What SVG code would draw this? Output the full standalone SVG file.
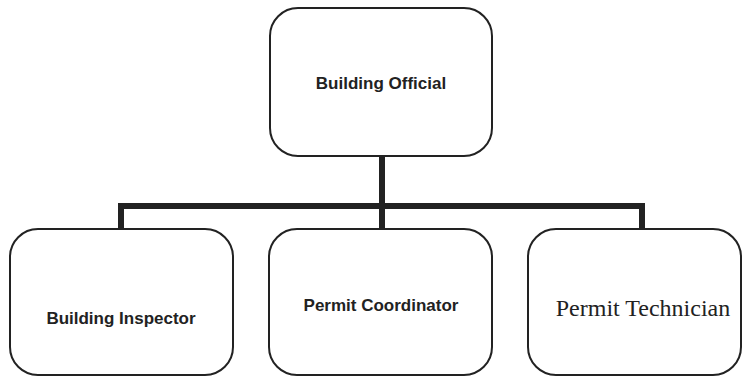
<svg xmlns="http://www.w3.org/2000/svg" width="743" height="377" viewBox="0 0 743 377">
<style>
.box{fill:#fff;stroke:#222;stroke-width:2}
.lbl{font-family:"Liberation Sans",Arial,sans-serif;font-weight:bold;font-size:17px;fill:#222;text-anchor:middle}
.serif{font-family:"Liberation Serif","Times New Roman",serif;font-size:24px;fill:#222;text-anchor:middle}
.conn{fill:none;stroke:#222;stroke-width:6}
</style>
<rect width="743" height="377" fill="#fff"/>
<g id="connectors">
<line class="conn" x1="382" y1="156" x2="382" y2="229"/>
<polyline class="conn" points="121,229 121,206 642,206 642,229"/>
</g>
<g id="building-official">
<rect class="box" x="270" y="8" width="222" height="148" rx="28"/>
<text class="lbl" x="381" y="89">Building Official</text>
</g>
<g id="building-inspector">
<rect class="box" x="10" y="229" width="223" height="146" rx="28"/>
<text class="lbl" x="121" y="324">Building Inspector</text>
</g>
<g id="permit-coordinator">
<rect class="box" x="269" y="229" width="223" height="146" rx="28"/>
<text class="lbl" x="381" y="311">Permit Coordinator</text>
</g>
<g id="permit-technician">
<rect class="box" x="528" y="229" width="213" height="146" rx="28"/>
<text class="serif" x="643" y="316">Permit Technician</text>
</g>
</svg>
